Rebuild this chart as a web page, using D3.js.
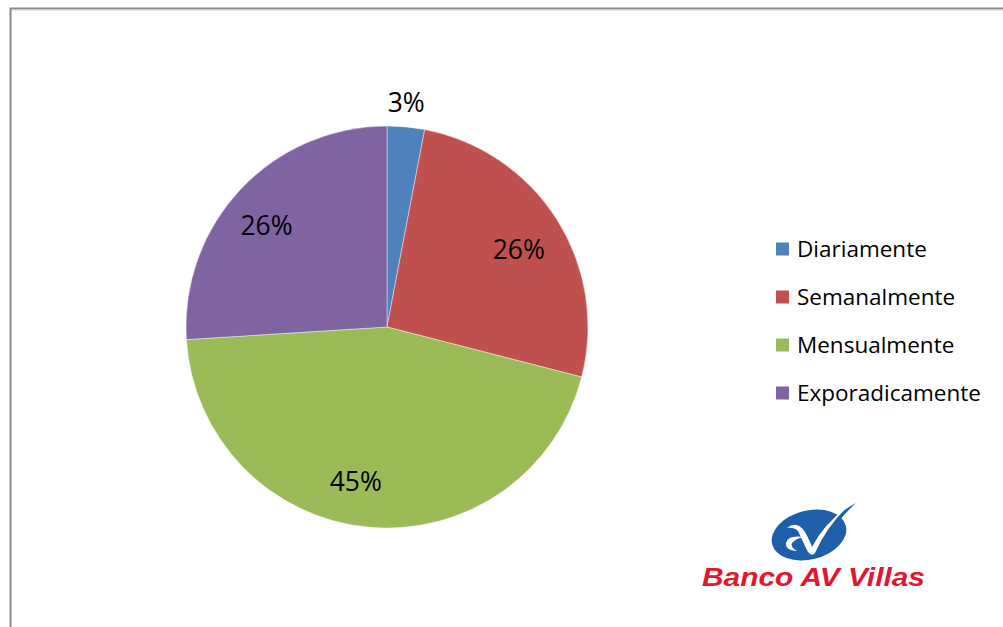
<!DOCTYPE html>
<html>
<head>
<meta charset="utf-8">
<script src="https://cdn.jsdelivr.net/npm/d3@7"></script>
<style>
  html, body { margin: 0; padding: 0; background: #fff; }
  svg { display: block; }
</style>
</head>
<body>
<svg id="chart" width="1003" height="627"></svg>
<script>
// Frequency of use, share of respondents
const categories = ["Diariamente", "Semanalmente", "Mensualmente", "Exporadicamente"];
const shares = [3, 26, 45, 26];
const colors = ["#4F81BD", "#C0504D", "#9BBB59", "#8064A2"];

// Label placement: radius as a fraction of the pie radius and a small angular shift (degrees)
const labelPlacement = [
  { r: 1.12, shift: -0.5 },
  { r: 0.76, shift: 2 },
  { r: 0.785, shift: 6 },
  { r: 0.785, shift: -3 }
];

const svg = d3.select("#chart");
const W = 1003, H = 627;
const FONT = "'Open Sans', 'Noto Sans', sans-serif";

// chart area frame (right and bottom edges run past the page)
svg.append("rect")
  .attr("x", 10.5).attr("y", 8.5)
  .attr("width", W + 20).attr("height", H + 20)
  .attr("fill", "#fff")
  .attr("stroke", "#8a8a8a")
  .attr("stroke-width", 2);
svg.append("line")
  .attr("x1", 12).attr("x2", W).attr("y1", 10).attr("y2", 10)
  .attr("stroke", "#d0d0d0").attr("stroke-width", 1);

// Pie
const cx = 387, cy = 327, R = 201;
const pie = d3.pie().sort(null).value(d => d).startAngle(0).endAngle(2 * Math.PI);
const arcs = pie(shares);
const arc = d3.arc().innerRadius(0).outerRadius(R);

const g = svg.append("g").attr("transform", `translate(${cx},${cy})`);
g.selectAll("path.slice")
  .data(arcs)
  .enter().append("path")
  .attr("class", "slice")
  .attr("d", arc)
  .attr("fill", (d, i) => colors[i])
  .attr("stroke", "#ffffff")
  .attr("stroke-opacity", 0.6)
  .attr("stroke-width", 0.7);

// Percentage labels
const fmt = d3.format(".0%");
g.selectAll("text.pct")
  .data(arcs)
  .enter().append("text")
  .attr("class", "pct")
  .attr("transform", (d, i) => {
    const p = labelPlacement[i];
    const a = (d.startAngle + d.endAngle) / 2 + p.shift * Math.PI / 180;
    const rr = R * p.r;
    return `translate(${rr * Math.sin(a)},${-rr * Math.cos(a)})`;
  })
  .attr("text-anchor", "middle")
  .attr("dy", "0.36em")
  .attr("font-family", FONT)
  .attr("font-size", 26.5)
  .attr("fill", "#000")
  .text(d => fmt(d.value / d3.sum(shares)));

// Legend
const legendY = d3.scalePoint().domain(categories).range([249, 393]);
const legend = svg.append("g");
const items = legend.selectAll("g.item")
  .data(categories)
  .enter().append("g")
  .attr("class", "item")
  .attr("transform", d => `translate(776,${legendY(d)})`);
items.append("rect")
  .attr("x", 0).attr("y", -6.5)
  .attr("width", 13).attr("height", 13)
  .attr("fill", (d, i) => colors[i]);
items.append("text")
  .attr("x", 21).attr("dy", "0.36em")
  .attr("font-family", FONT)
  .attr("font-size", 22.5)
  .attr("fill", "#000")
  .text(d => d);

// Bank logo
const logo = svg.append("g");
logo.append("ellipse")
  .attr("cx", 809).attr("cy", 535)
  .attr("rx", 38).attr("ry", 24.5)
  .attr("transform", "rotate(-14 809 535)")
  .attr("fill", "#1f5fa9");
// tail of the check stroke leaving the ellipse
logo.append("path")
  .attr("d", "M836,517 Q846,508 856,503 Q848,510 840,520 Z")
  .attr("fill", "#1f5fa9");
// white check mark with curl
logo.append("path")
  .attr("d", "M787,528 Q797,520 805,532 Q810,541 812,547 Q824,524 846,508 Q826,528 815,553 Q812,557 808,552 Q802,540 798,531 Q794,527 787,528 Z")
  .attr("fill", "#ffffff");
logo.append("path")
  .attr("d", "M803,537 Q788,535 786,543 Q785,550 797,551 Q790,547 792,543 Q795,539 803,537 Z")
  .attr("fill", "#ffffff");
logo.append("text")
  .attr("x", 702).attr("y", 586)
  .attr("font-family", "'Liberation Sans', Arial, sans-serif")
  .attr("font-weight", "bold")
  .attr("font-style", "italic")
  .attr("font-size", 26.5)
  .attr("textLength", 223)
  .attr("lengthAdjust", "spacingAndGlyphs")
  .attr("fill", "#e3162e")
  .text("Banco AV Villas");
</script>
</body>
</html>
